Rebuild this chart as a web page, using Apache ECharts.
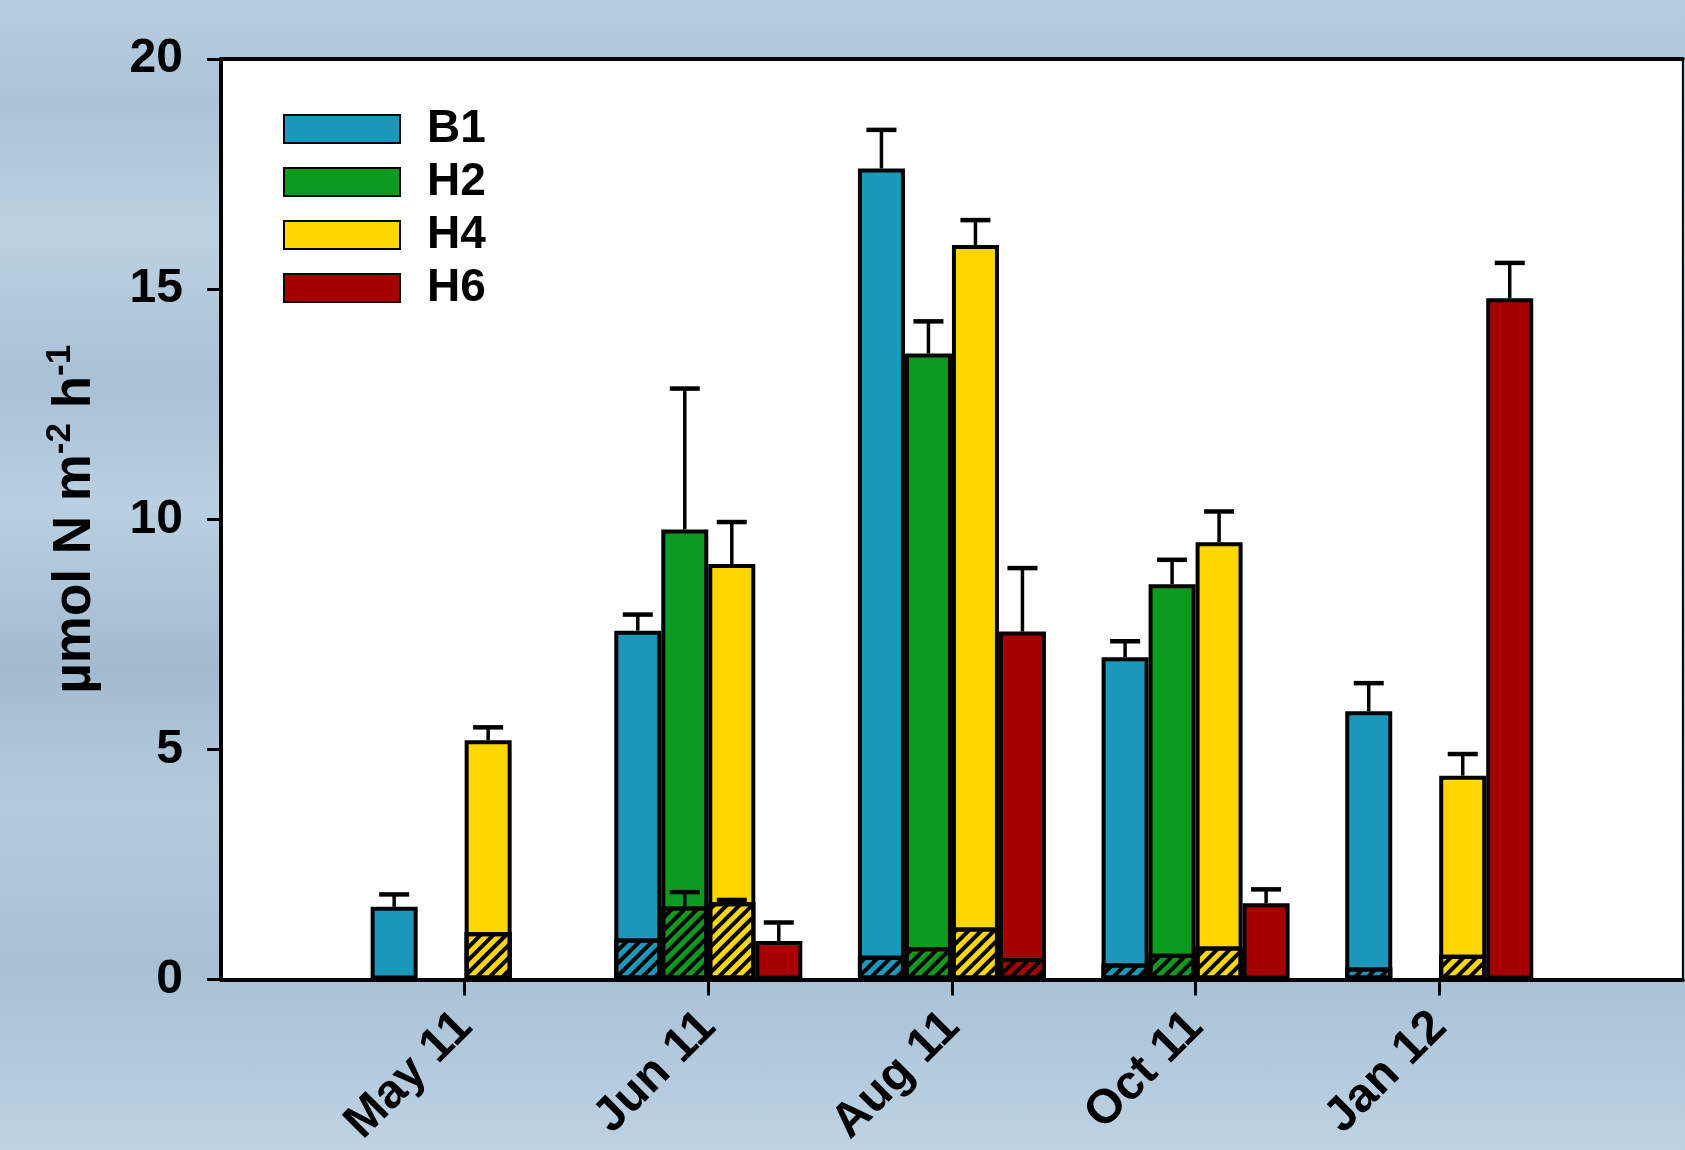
<!DOCTYPE html>
<html>
<head>
<meta charset="utf-8">
<script src="https://cdn.jsdelivr.net/npm/echarts@6/dist/echarts.min.js"></script>
<style>
  html, body { margin: 0; padding: 0; }
  body {
    width: 1685px; height: 1150px; overflow: hidden;
    background: linear-gradient(180deg, #b7cee0 0%, #aac3d7 9%, #bcd2e3 20%, #a8c1d5 33%, #b9d0e2 44%, #a2bbcf 58%, #b4cbde 70%, #a7c0d4 84%, #bdd3e4 100%);
  }
  #chart { width: 1685px; height: 1150px; }
</style>
</head>
<body>
<div id="chart"></div>
<script>
// sampling dates
const categories = ['May 11', 'Jun 11', 'Aug 11', 'Oct 11', 'Jan 12'];

// total rates (solid bars) and their errors
const b1 = [1.58, 7.58, 17.62, 7.0, 5.83];
const b1Err = [0.27, 0.35, 0.84, 0.35, 0.61];
const h2 = [null, 9.78, 13.6, 8.59, null];
const h2Err = [null, 3.06, 0.7, 0.53, null];
const h4 = [5.2, 9.03, 15.96, 9.5, 4.43];
const h4Err = [0.28, 0.91, 0.54, 0.67, 0.47];
const h6 = [null, 0.84, 7.56, 1.66, 14.8];
const h6Err = [null, 0.4, 1.38, 0.3, 0.77];

// hatched part
const b1Hatch = [null, 0.89, 0.52, 0.35, 0.26];
const h2Hatch = [null, 1.59, 0.70, 0.56, null];
const h2HatchErr = [null, 0.31, null, null, null];
const h4Hatch = [1.03, 1.68, 1.13, 0.72, 0.54];
const h4HatchErr = [null, 0.05, null, null, null];
const h6Hatch = [null, null, 0.47, null, null];

const names = ['B1', 'H2', 'H4', 'H6'];
const colors = ['#1a97bb', '#0c9a1f', '#ffd700', '#a60000'];
const yTicks = [0, 5, 10, 15, 20];

const BAR_W = 47;
const CAP = 30;

// blank slot at both ends so the dates sit at 1..5
const xCats = [''].concat(categories, ['']);
const pad = arr => [null].concat(arr, [null]);

const hatch = {
  symbol: 'rect',
  symbolSize: 1,
  dashArrayX: [1, 0],
  dashArrayY: [4, 5],
  rotation: -Math.PI / 4,
  color: '#000'
};

function barSeries(name, vals, i, hatched) {
  return {
    type: 'bar',
    name: hatched ? name + ' part' : name,
    xAxisIndex: hatched ? 1 : 0,
    data: pad(vals),
    barWidth: BAR_W,
    barGap: '0%',
    z: hatched ? 3 : 2,
    itemStyle: Object.assign({
      color: colors[i],
      borderColor: '#000',
      borderWidth: 4
    }, hatched ? { decal: hatch } : {})
  };
}

function errSeries(name, vals, errs, slot, xi) {
  const data = [];
  vals.forEach((v, k) => {
    if (v != null && errs[k] != null) data.push([k + 1, v, errs[k]]);
  });
  return {
    type: 'custom',
    name: name + ' err',
    xAxisIndex: xi,
    z: 5,
    data: data,
    renderItem: (params, api) => {
      const base = api.coord([api.value(0), api.value(1)]);
      const top = api.coord([api.value(0), api.value(1) + api.value(2)]);
      const x = base[0] + (slot - 1.5) * BAR_W;
      return {
        type: 'group',
        children: [
          { type: 'line', shape: { x1: x, y1: base[1], x2: x, y2: top[1] }, style: { stroke: '#000', lineWidth: 3.5 } },
          { type: 'line', shape: { x1: x - CAP / 2, y1: top[1], x2: x + CAP / 2, y2: top[1] }, style: { stroke: '#000', lineWidth: 4.5 } }
        ]
      };
    }
  };
}

const solid = [b1, h2, h4, h6];
const solidErr = [b1Err, h2Err, h4Err, h6Err];
const parts = [b1Hatch, h2Hatch, h4Hatch, h6Hatch];

const series = [];
names.forEach((n, i) => series.push(barSeries(n, solid[i], i, false)));
names.forEach((n, i) => series.push(barSeries(n, parts[i], i, true)));
names.forEach((n, i) => series.push(errSeries(n, solid[i], solidErr[i], i, 0)));
series.push(errSeries('H2 part', h2Hatch, h2HatchErr, 1, 1));
series.push(errSeries('H4 part', h4Hatch, h4HatchErr, 2, 1));

const font = 'Liberation Sans, Arial, sans-serif';

const chart = echarts.init(document.getElementById('chart'));
chart.setOption({
  animation: false,
  textStyle: { fontFamily: font },
  grid: {
    left: 221, top: 59, width: 1464, height: 921,
    show: true, backgroundColor: '#ffffff', borderColor: '#000', borderWidth: 2
  },
  legend: {
    data: names,
    orient: 'vertical',
    left: 278, top: 101,
    icon: 'rect',
    itemWidth: 116, itemHeight: 28, itemGap: 7,
    textStyle: { fontSize: 46, fontWeight: 'bold', color: '#000', lineHeight: 46, padding: [0, 0, 0, 22] }
  },
  xAxis: [
    {
      type: 'category',
      data: xCats,
      boundaryGap: false,
      axisLine: { lineStyle: { color: '#000', width: 4 } },
      axisTick: { interval: idx => idx > 0 && idx < 6, length: 16, lineStyle: { color: '#000', width: 3 } },
      axisLabel: { interval: 0, rotate: 45, margin: 40, fontSize: 48, fontWeight: 'bold', color: '#000' },
      splitLine: { show: false }
    },
    {
      type: 'category',
      data: xCats,
      boundaryGap: false,
      position: 'top',
      axisLine: { lineStyle: { color: '#000', width: 4 } },
      axisTick: { show: false },
      axisLabel: { show: false },
      splitLine: { show: false }
    }
  ],
  yAxis: {
    type: 'value',
    min: yTicks[0], max: yTicks[yTicks.length - 1], interval: 5,
    name: '{a|µmol N m}{s|-2}{a| h}{s|-1}',
    nameLocation: 'middle',
    nameRotate: 90,
    nameGap: 114,
    nameTextStyle: {
      rich: {
        a: { fontSize: 53, fontWeight: 'bold', color: '#000', lineHeight: 64, fontFamily: font },
        s: { fontSize: 35, fontWeight: 'bold', color: '#000', verticalAlign: 'top', lineHeight: 40, fontFamily: font }
      }
    },
    axisLine: { show: true, lineStyle: { color: '#000', width: 4 } },
    axisTick: { show: true, length: 14, lineStyle: { color: '#000', width: 3 } },
    axisLabel: { margin: 38, fontSize: 48, fontWeight: 'bold', color: '#000' },
    splitLine: { show: false }
  },
  series: series
});
</script>
</body>
</html>
